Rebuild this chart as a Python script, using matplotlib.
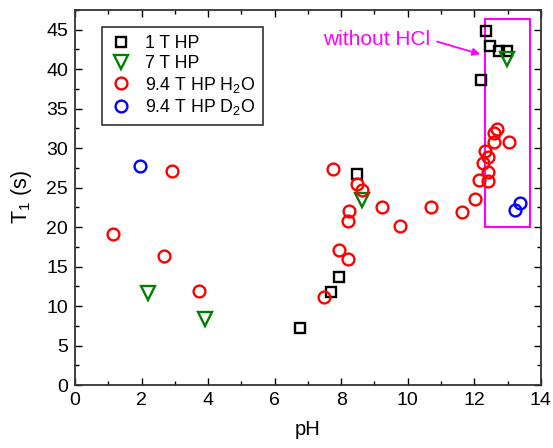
import numpy as np
import matplotlib.pyplot as plt
from matplotlib.patches import Rectangle
from matplotlib.ticker import MultipleLocator

plt.rcParams['font.family'] = ['Liberation Sans', 'DejaVu Sans']
plt.rcParams['mathtext.fontset'] = 'custom'
plt.rcParams['mathtext.rm'] = 'Liberation Sans'

# 1 T HP
ph_1t = [6.77, 7.69, 7.92, 8.47, 12.21, 12.35, 12.48, 12.73, 12.98]
t1_1t = [7.2, 11.8, 13.7, 26.7, 38.6, 44.9, 42.9, 42.3, 42.3]

# 7 T HP
ph_7t = [2.2, 3.91, 8.62, 12.98]
t1_7t = [11.7, 8.3, 23.4, 41.3]

# 9.4 T HP H2O
ph_h2o = [1.15, 2.68, 2.93, 3.74, 7.47, 7.75, 7.92, 8.19, 8.2, 8.22, 8.49, 8.64,
          9.22, 9.77, 10.71, 11.63, 12.03, 12.13, 12.26, 12.33, 12.4, 12.4, 12.4,
          12.58, 12.58, 12.68, 13.03]
t1_h2o = [19.1, 16.4, 27.1, 11.9, 11.1, 27.3, 17.1, 16.0, 20.8, 22.1, 25.4, 24.7,
          22.5, 20.1, 22.6, 21.9, 23.6, 26.0, 28.1, 29.7, 28.9, 27.0, 25.9,
          30.8, 31.9, 32.4, 30.8]

# 9.4 T HP D2O
ph_d2o = [1.95, 13.21, 13.36]
t1_d2o = [27.8, 22.2, 23.1]

fig = plt.figure(figsize=(5.53, 4.48), dpi=100)
ax = fig.add_axes([0.1356, 0.1406, 0.8424, 0.8371])

ax.plot(ph_1t, t1_1t, 's', mfc='none', mec='black', ms=6.5, mew=1.7, label='1 T HP')
ax.plot(ph_7t, t1_7t, 'v', mfc='none', mec='green', ms=10, mew=1.7, label='7 T HP')
ax.plot(ph_h2o, t1_h2o, 'o', mfc='none', mec='red', ms=8.5, mew=1.7, label='9.4 T HP H$_2$O')
ax.plot(ph_d2o, t1_d2o, 'o', mfc='none', mec='blue', ms=8.5, mew=1.7, label='9.4 T HP D$_2$O')

# caja de las muestras sin HCl
ax.add_patch(Rectangle((12.33, 20.0), 1.35, 26.3, fill=False, ec='magenta', lw=1.5))
ax.text(9.07, 43.7, 'without HCl', color='magenta', fontsize=15, ha='center', va='center')
ax.annotate('', xy=(12.18, 41.9), xytext=(10.88, 43.5),
            arrowprops=dict(arrowstyle='-|>', color='magenta', lw=1.3,
                            mutation_scale=11, shrinkA=0, shrinkB=0))

ax.set_xlim(0, 14)
ax.set_ylim(0, 47.5)
ax.xaxis.set_major_locator(MultipleLocator(2))
ax.xaxis.set_minor_locator(MultipleLocator(1))
ax.yaxis.set_major_locator(MultipleLocator(5))
ax.yaxis.set_minor_locator(MultipleLocator(2.5))
ax.tick_params(which='both', direction='in', top=True, right=True, labelsize=14, width=1, pad=5)
ax.tick_params(which='major', length=5)
ax.tick_params(which='minor', length=3)
for s in ax.spines.values():
    s.set_linewidth(1.3)
    s.set_color('#333333')

ax.set_xlabel('pH', fontsize=14.5, labelpad=8)
ax.set_ylabel('T$_1$ (s)', fontsize=15.5, labelpad=9)

leg = ax.legend(loc='upper left', bbox_to_anchor=(0.057, 0.954), fontsize=12.8,
                frameon=True, fancybox=False, edgecolor='black', borderpad=0.45,
                borderaxespad=0, handletextpad=0.7, labelspacing=0.15, handlelength=1.3)
leg.get_frame().set_linewidth(1.2)

fig.savefig('out.png', dpi=100)
